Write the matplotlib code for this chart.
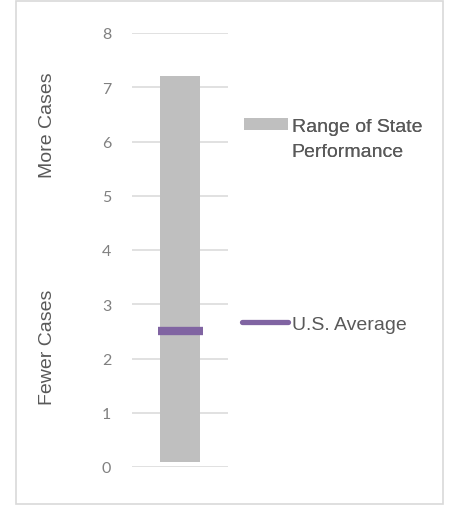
import matplotlib
matplotlib.use("Agg")
import matplotlib.pyplot as plt
from matplotlib.patches import Rectangle, Patch
from matplotlib.lines import Line2D

# data
range_low, range_high = 0.1, 7.2
us_average = 2.5
y_ticks = [0, 1, 2, 3, 4, 5, 6, 7, 8]
range_label = ['Range of State', 'Performance']
avg_label = 'U.S. Average'
side_labels = ['More Cases', 'Fewer Cases']

gray = '#bfbfbf'
purple = '#8064a2'
grid = '#d9d9d9'
txt = '#595959'

plt.rcParams['font.family'] = ['Liberation Sans', 'DejaVu Sans']

fig = plt.figure(figsize=(4.5, 5.06), dpi=100)
ax = fig.add_axes([132 / 450, 1 - 468 / 506, 96 / 450, 434 / 506])

# range bar and average marker
ax.bar(0, range_high - range_low, bottom=range_low, width=0.41, color=gray, zorder=2)
ax.plot([-0.23, 0.24], [us_average, us_average], color=purple, lw=6,
        solid_capstyle='butt', zorder=3)

ax.set_xlim(-0.5, 0.5)
ax.set_ylim(0, 8)
ax.set_yticks(y_ticks)
ax.set_xticks([])
ax.yaxis.grid(True, color=grid, lw=1.1, zorder=0)
ax.set_axisbelow(True)
for s in ax.spines.values():
    s.set_visible(False)
ax.tick_params(axis='y', length=0, pad=15, labelsize=11.5, labelcolor='#808080')
for lab in ax.get_yticklabels():
    lab.set_fontfamily(['Lato', 'DejaVu Sans'])

# legends
h1 = [Patch(facecolor=gray), Patch(facecolor='none', edgecolor='none')]
leg1 = fig.legend(h1, range_label, loc='center left',
                  bbox_to_anchor=(244 / 450, 1 - 140 / 506), frameon=False,
                  fontsize=14, handlelength=2.25, handleheight=0.55,
                  handletextpad=0.2, labelspacing=0.4, borderpad=0,
                  borderaxespad=0, labelcolor=txt)
h2 = [Line2D([], [], color=purple, lw=3.8, solid_capstyle='round')]
leg2 = fig.legend(h2, [avg_label], loc='center left',
                  bbox_to_anchor=(242 / 450, 1 - 325 / 506), frameon=False,
                  fontsize=14, handlelength=2.35, handletextpad=0.2,
                  borderpad=0, borderaxespad=0, labelcolor=txt)
fig.add_artist(leg1)

# side annotations
fig.text(48 / 450, 1 - 125 / 506, side_labels[0], rotation=90, ha='center',
         va='center', fontsize=14, color=txt)
fig.text(48 / 450, 1 - 347 / 506, side_labels[1], rotation=90, ha='center',
         va='center', fontsize=14, color=txt)

# outer frame
fig.patches.append(Rectangle((15.5 / 450, 1 - 505 / 506), 427.5 / 450, 503.5 / 506,
                             transform=fig.transFigure, fill=False,
                             edgecolor=grid, lw=1.2))

fig.savefig('out.png', dpi=100)
